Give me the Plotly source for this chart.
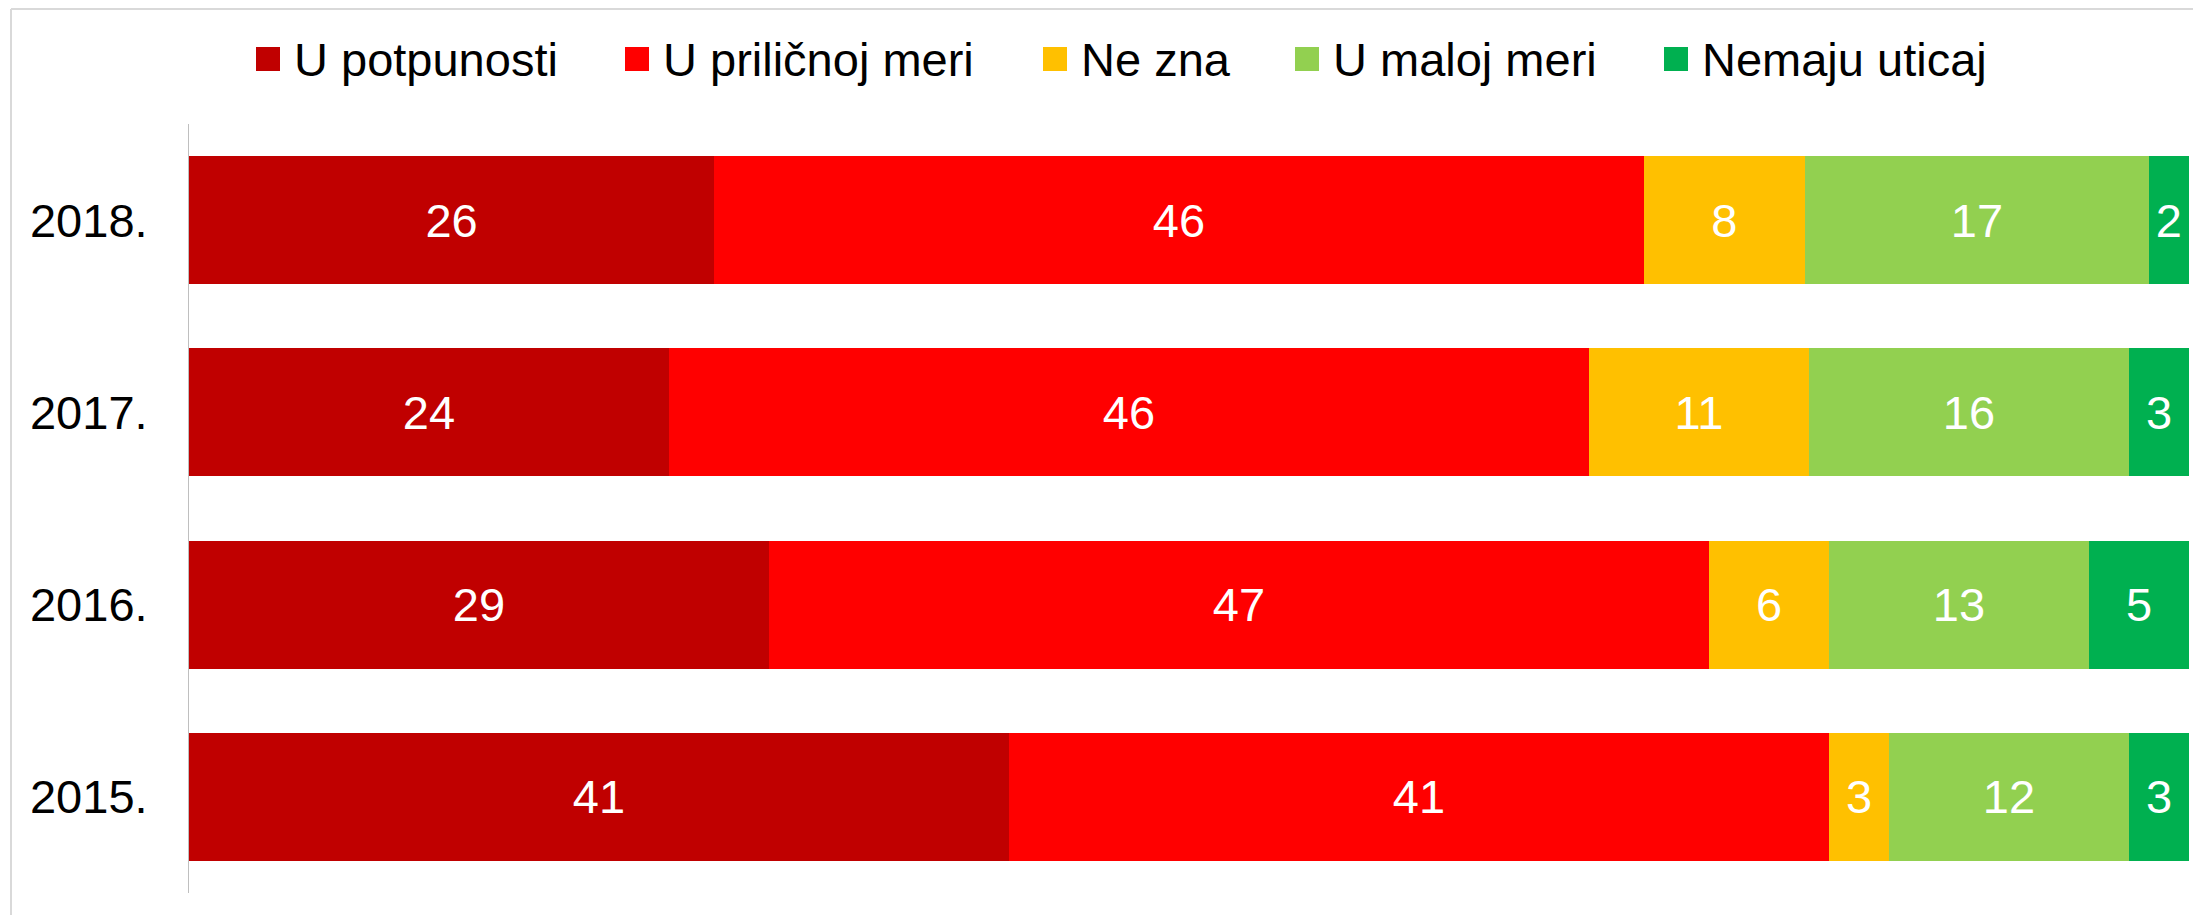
import plotly.graph_objects as go

years = ["2018.", "2017.", "2016.", "2015."]
series_names = ["U potpunosti", "U priličnoj meri", "Ne zna", "U maloj meri", "Nemaju uticaj"]
u_potpunosti = [26, 24, 29, 41]
u_prilicnoj_meri = [46, 46, 47, 41]
ne_zna = [8, 11, 6, 3]
u_maloj_meri = [17, 16, 13, 12]
nemaju_uticaj = [2, 3, 5, 3]
colors = ["#C00000", "#FF0000", "#FFC000", "#92D050", "#00B050"]

FONT = "Liberation Sans, Arial, sans-serif"
OFF = 8  # the page body margin shifts the figure by 8 px
W, H = 2201 - OFF, 915 - OFF
L, R, T, B = 189 - OFF, 12, 124 - OFF, 22
PW, PH = W - L - R, H - T - B

# legend layout (screen pixel positions of the left edge of each legend square)
LEG_SQ_X = [256, 625, 1043, 1295, 1664]
LEG_SQ = 24
LEG_TEXT_GAP = 13
LEG_Y = 59


def px_x(p):
    return (p - OFF - L) / PW


def px_y(p):
    return (H - B - (p - OFF)) / PH


fig = go.Figure()
for name, vals, col in zip(series_names,
                           [u_potpunosti, u_prilicnoj_meri, ne_zna, u_maloj_meri, nemaju_uticaj],
                           colors):
    fig.add_trace(go.Bar(
        y=years, x=vals, orientation="h",
        name=name,
        marker=dict(color=col, line=dict(width=0)),
        text=[str(v) for v in vals],
        textposition="inside", insidetextanchor="middle",
        textangle=0, constraintext="none",
        textfont=dict(color="white", size=47, family=FONT),
        hoverinfo="x+y+name",
        showlegend=False,
    ))

shapes = [
    dict(type="line", xref="paper", yref="paper", x0=px_x(11), x1=px_x(2201 + 5),
         y0=px_y(9), y1=px_y(9), line=dict(color="#D9D9D9", width=2)),
    dict(type="line", xref="paper", yref="paper", x0=px_x(11), x1=px_x(11),
         y0=px_y(9), y1=px_y(915 + 5), line=dict(color="#D9D9D9", width=2)),
]
annotations = []
for name, col, sx in zip(series_names, colors, LEG_SQ_X):
    shapes.append(dict(type="rect", xref="paper", yref="paper",
                       x0=px_x(sx), x1=px_x(sx + LEG_SQ),
                       y0=px_y(LEG_Y - LEG_SQ / 2), y1=px_y(LEG_Y + LEG_SQ / 2),
                       fillcolor=col, line=dict(width=0)))
    annotations.append(dict(text=name, xref="paper", yref="paper",
                            x=px_x(sx + LEG_SQ + LEG_TEXT_GAP), xanchor="left",
                            y=px_y(LEG_Y), yanchor="middle", showarrow=False,
                            font=dict(size=47, family=FONT, color="black"),
                            borderpad=0))

fig.update_layout(
    width=W, height=H,
    margin=dict(l=L, r=R, t=T, b=B, pad=0, autoexpand=False),
    barmode="stack", barnorm="percent", bargap=1/3,
    plot_bgcolor="white", paper_bgcolor="white",
    font=dict(family=FONT, size=47, color="black"),
    showlegend=False,
    xaxis=dict(range=[0, 100], visible=False, fixedrange=True),
    yaxis=dict(autorange="reversed", showline=True, linecolor="#BFBFBF", linewidth=1,
               showgrid=False, ticks="", ticklabelstandoff=31, automargin=False,
               tickfont=dict(size=47, family=FONT, color="black"), fixedrange=True),
    shapes=shapes,
    annotations=annotations,
)

fig.write_html("out.html")
